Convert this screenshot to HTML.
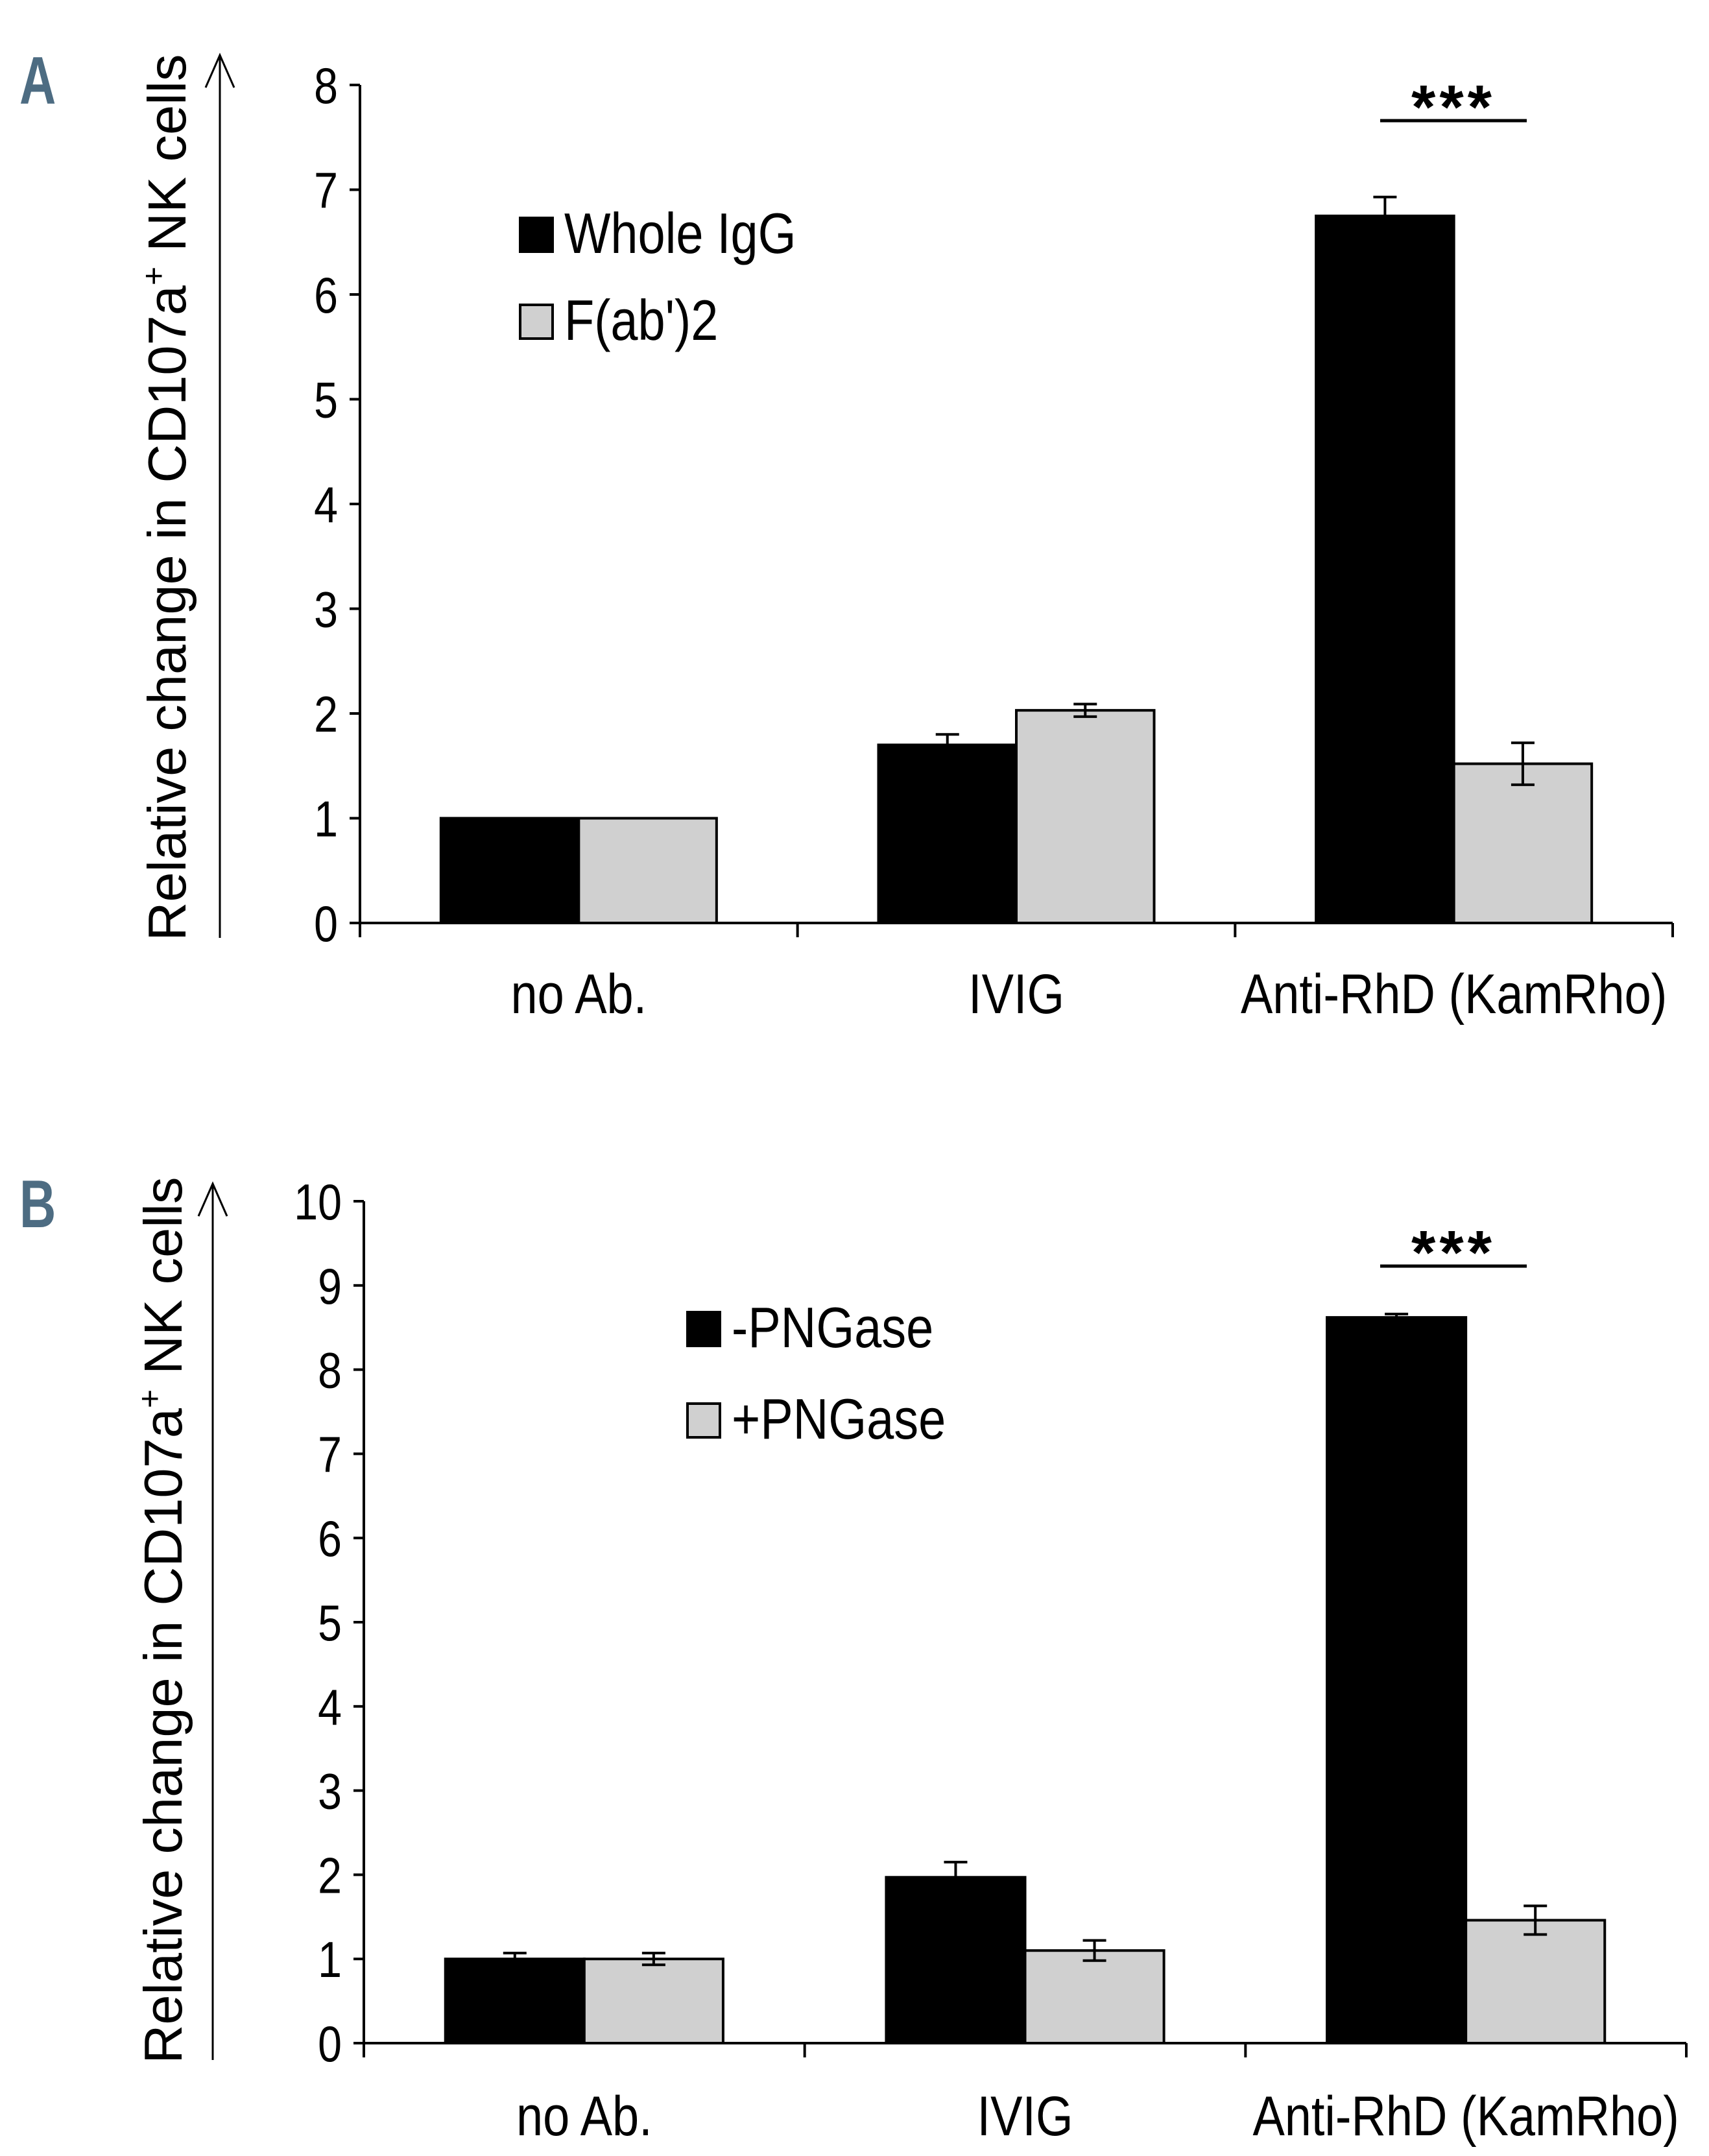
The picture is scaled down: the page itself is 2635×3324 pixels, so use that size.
<!DOCTYPE html>
<html><head><meta charset="utf-8"><style>
html,body{margin:0;padding:0;background:#fff;}
svg{display:block;}
.n{font-family:"Liberation Sans",sans-serif;}
.w{font-family:"Liberation Sans",sans-serif;}
</style></head><body>
<svg id="fig" width="2635" height="3324" viewBox="0 0 2635 3324" xmlns="http://www.w3.org/2000/svg">
<text x="0" y="0" transform="translate(30,160) scale(0.75,1)" class="n" font-size="104" font-weight="bold" fill="#4d6c82">A</text>
<text x="0" y="0" transform="translate(30,1892) scale(0.75,1)" class="n" font-size="104" font-weight="bold" fill="#4d6c82">B</text>
<g id="gA"></g>
<g id="gB"></g>
</svg>
<script>
const categories = ["no Ab.", "IVIG", "Anti-RhD (KamRho)"];
const aBlack = [1, 1.7, 6.75];
const aBlackErr = [0, 0.1, 0.18];
const aGray = [1, 2.03, 1.52];
const aGrayErr = [0, 0.06, 0.2];
const aTicks = [0,1,2,3,4,5,6,7,8];
const aLegend = ["Whole IgG", "F(ab')2"];
const bBlack = [1, 1.97, 8.62];
const bBlackErr = [0.07, 0.18, 0.04];
const bGray = [1, 1.1, 1.46];
const bGrayErr = [0.07, 0.12, 0.17];
const bTicks = [0,1,2,3,4,5,6,7,8,9,10];
const bLegend = ["-PNGase", "+PNGase"];
const NS = "http://www.w3.org/2000/svg";
function mk(p, tag, at, txt){const e=document.createElementNS(NS,tag);for(const k in at)e.setAttribute(k,at[k]);if(txt!==undefined)e.textContent=txt;p.appendChild(e);return e;}
function nt(p,x,y,size,anchor,txt,sx){return mk(p,"text",{x:0,y:0,class:"n","font-size":size,"text-anchor":anchor,transform:`translate(${x},${y}) scale(${sx||0.84},1)`},txt);}
function draw(g, cfg){
  const yS = v => cfg.y0 - (v/cfg.ymax)*(cfg.y0-cfg.yTop);
  const gw = (cfg.xR-cfg.xL)/categories.length;
  const xC = i => cfg.xL + gw*i;
  let e=mk(g,"line",{x1:cfg.ax,y1:cfg.arTop,x2:cfg.ax,y2:cfg.arBot,stroke:"#000","stroke-width":3});
  
  e=mk(g,"polyline",{points:`${cfg.ax-22},${cfg.arTop+50} ${cfg.ax},${cfg.arTop} ${cfg.ax+22},${cfg.arTop+50}`,fill:"none",stroke:"#000","stroke-width":3});
  
  e=mk(g,"text",{x:0,y:0,class:"w","font-size":83,"text-anchor":"middle",transform:`translate(${cfg.tx},${cfg.ty}) rotate(-90)`});
  
  e.appendChild(document.createTextNode("Relative change in CD107a"));
  const s=document.createElementNS(NS,"tspan");s.setAttribute("font-size","50");s.setAttribute("dy","-32");s.textContent="+";e.appendChild(s);
  const s2=document.createElementNS(NS,"tspan");s2.setAttribute("dy","32");s2.textContent=" NK cells";e.appendChild(s2);
  e=mk(g,"line",{x1:cfg.xL,y1:yS(0),x2:cfg.xL,y2:yS(cfg.ymax),stroke:"#000","stroke-width":4});
  
  e=mk(g,"line",{x1:cfg.xL-4,y1:yS(0),x2:cfg.xR,y2:yS(0),stroke:"#000","stroke-width":4});
  
  cfg.ticks.forEach(t=>{
    e=mk(g,"line",{x1:cfg.xL-16,y1:yS(t),x2:cfg.xL,y2:yS(t),stroke:"#000","stroke-width":4});
    
    e=nt(g,cfg.xL-34,yS(t)+28,78,"end",String(t),0.85);
    
  });
  for(let i=0;i<=categories.length;i++){
    e=mk(g,"line",{x1:xC(i),y1:yS(0),x2:xC(i),y2:yS(0)+22,stroke:"#000","stroke-width":4});
    
  }
  const bw = gw*0.315, off = gw*0.185;
  categories.forEach((c,i)=>{
    e=nt(g,xC(i)+gw/2,cfg.labY,86,"middle",c,0.86);
    
    [[cfg.black,cfg.blackErr,"#000",0],[cfg.gray,cfg.grayErr,"#d0d0d0",1]].forEach(([vals,errs,col,k])=>{
      const x=xC(i)+off+k*bw, v=vals[i];
      e=mk(g,"rect",{x:x,y:yS(v),width:bw,height:yS(0)-yS(v),fill:col,stroke:"#000","stroke-width":4});
      
      if(errs[i]>0){
        const cx=x+bw/2;
        e=mk(g,"path",{d:`M${cx},${yS(v+errs[i])}V${yS(v-errs[i])}M${cx-18},${yS(v+errs[i])}H${cx+18}M${cx-18},${yS(v-errs[i])}H${cx+18}`,stroke:"#000","stroke-width":4,fill:"none"});
        
      }
    });
  });
  e=mk(g,"line",{x1:2128,y1:cfg.sigY,x2:2354,y2:cfg.sigY,stroke:"#000","stroke-width":5});
  
  e=mk(g,"text",{x:2241,y:cfg.sigY+12,class:"n","font-size":96,"font-weight":"bold","text-anchor":"middle","letter-spacing":"6"},"***");
  
  cfg.legend.forEach((l,k)=>{
    const y=cfg.legY+k*cfg.legGap;
    e=mk(g,"rect",{x:cfg.legX,y:y,width:50,height:52,fill:k?"#d0d0d0":"#000",stroke:"#000","stroke-width":4});
    
    e=nt(g,cfg.legX+68,y+54,88,"start",l,0.86);
    
  });
}
draw(document.getElementById("gA"),{xL:555,xR:2579,y0:1423,yTop:131,ymax:8,ticks:aTicks,black:aBlack,blackErr:aBlackErr,gray:aGray,grayErr:aGrayErr,legend:aLegend,legX:802,legY:336,legGap:134,sigY:186,labY:1562,ax:339,arTop:85,arBot:1446,tx:286,ty:767});
draw(document.getElementById("gB"),{xL:561,xR:2600,y0:3150,yTop:1852,ymax:10,ticks:bTicks,black:bBlack,blackErr:bBlackErr,gray:bGray,grayErr:bGrayErr,legend:bLegend,legX:1060,legY:2023,legGap:141,sigY:1952,labY:3292,ax:328,arTop:1825,arBot:3176,tx:280,ty:2498});
</script>
</body></html>
